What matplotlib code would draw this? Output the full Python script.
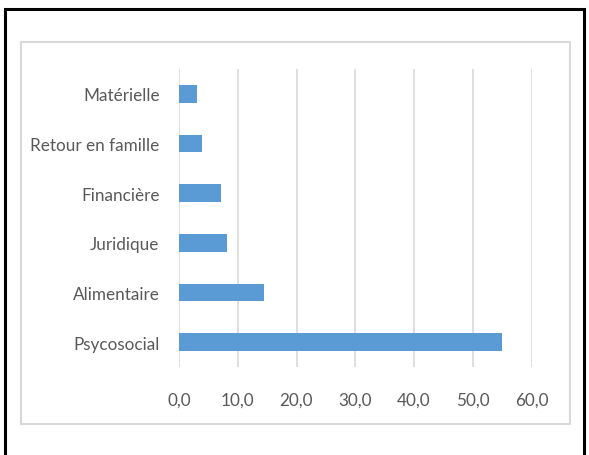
import matplotlib
matplotlib.use("Agg")
import matplotlib.pyplot as plt
from matplotlib.patches import Rectangle

categories = ["Psycosocial", "Alimentaire", "Juridique", "Financière", "Retour en famille", "Matérielle"]
values = [55.0, 14.5, 8.2, 7.2, 3.9, 3.0]
xticks = [0, 10, 20, 30, 40, 50, 60]
xtick_labels = ["0,0", "10,0", "20,0", "30,0", "40,0", "50,0", "60,0"]

W, H = 589, 456
fig = plt.figure(figsize=(W / 100, H / 100), dpi=100)
fig.patch.set_facecolor("white")

font = ["Lato", "DejaVu Sans"]
tcol = "#595959"

# outer black frame
fig.patches.append(Rectangle((5 / W, -0.05), (584 - 5) / W, 1.05 - 10 / H,
                             transform=fig.transFigure, fill=False,
                             edgecolor="black", linewidth=2.2))
# inner grey chart frame
fig.patches.append(Rectangle((21 / W, 1 - 425 / H), (570 - 21) / W, (425 - 43) / H,
                             transform=fig.transFigure, fill=False,
                             edgecolor="#D9D9D9", linewidth=1.5))

ax = fig.add_axes([179 / W, 1 - 368 / H, (531.5 - 179) / W, (368 - 70) / H])
ypos = list(range(len(categories)))
ax.barh(ypos, values, height=0.35, color="#5B9BD5", zorder=3)
ax.set_xlim(0, 60)
ax.set_ylim(-0.5, len(categories) - 0.5)
ax.set_xticks(xticks)
ax.set_xticklabels(xtick_labels)
ax.set_yticks(ypos)
ax.set_yticklabels(categories)
for lab in ax.get_xticklabels() + ax.get_yticklabels():
    lab.set_family(font)
    lab.set_fontsize(12.3)
    lab.set_color(tcol)
ax.tick_params(axis="x", length=0, pad=18)
ax.tick_params(axis="y", length=0, pad=14)
ax.grid(axis="x", color="#D9D9D9", linewidth=1.2, zorder=0)
for s in ax.spines.values():
    s.set_visible(False)
ax.set_facecolor("none")

fig.savefig("out.png", dpi=100)
